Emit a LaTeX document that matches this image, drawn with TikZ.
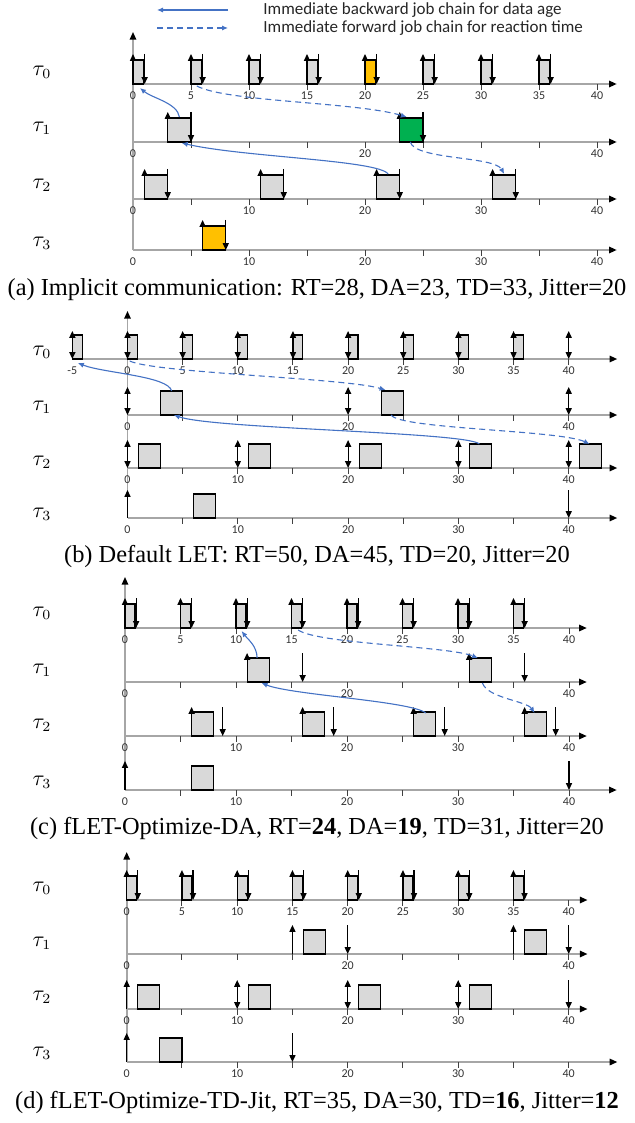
\documentclass[tikz,border=0pt]{standalone}
\usepackage{fontspec}
\setmainfont{Liberation Serif}
\newfontfamily\calfont{Carlito}
\usepackage{tikz}
\usetikzlibrary{arrows.meta}

\definecolor{jobfill}{HTML}{D9D9D9}
\definecolor{jobyel}{HTML}{FFC000}
\definecolor{jobgrn}{HTML}{00B050}
\definecolor{chainblue}{HTML}{4472C4}
\definecolor{axisgray}{HTML}{A6A6A6}

\tikzset{
  job/.style={fill=jobfill, draw=black, line width=0.6pt},
  upar/.style={line width=0.6pt, -{Triangle[length=3.4pt, width=3pt]}},
  twoar/.style={line width=0.6pt, {Triangle[length=3.4pt, width=3pt]}-{Triangle[length=3.4pt, width=3pt]}},
  taxis/.style={axisgray, line width=0.8pt, -{Triangle[length=3.8pt, width=3.2pt, color=black]}},
  tick/.style={black!75, line width=0.5pt},
  tlab/.style={font=\calfont\fontsize{6}{7}\selectfont, text=black!80, inner sep=0pt, anchor=north},
  tname/.style={font=\fontsize{10.5}{12}\selectfont},
  legtext/.style={font=\calfont\fontsize{8.5}{9.5}\selectfont, text=black!85, anchor=west, inner sep=0pt},
  chainb/.style={chainblue, line width=0.55pt, -{Latex[length=3pt, width=2.6pt]}},
  chainf/.style={chainb, dash pattern=on 3pt off 2pt},
  capt/.style={font=\fontsize{12.2}{14}\selectfont}
}

\begin{document}
\begin{tikzpicture}[x=0.5pt, y=0.5pt]
\useasboundingbox (0,0) rectangle (634,-1123);

% ── Legend ───────────────────────────────────────────────────────
\coordinate (lgb1) at (228,-10); \coordinate (lgb2) at (157,-10);
\coordinate (lgf1) at (157,-28); \coordinate (lgf2) at (228,-28);
\draw[chainb] (lgb1) -- (lgb2);
\draw[chainf] (lgf1) -- (lgf2);
\node[legtext] (lgback) at (263,-10) {Immediate backward job chain for data age};
\node[legtext] (lgfwd) at (263,-28) {Immediate forward job chain for reaction time};

% ── (a) Implicit communication ───────────────────────────────────
\begin{scope}[shift={(133,0)}, x=5.8pt]
    \draw[taxis] (0,-250) -- (0,-32);

    % tau_0
    \draw[taxis] (0,-84) -- (41.7,-84);
    \foreach \t in {5,10,...,40} \draw[tick] (\t,-84) -- ++(0,-6);
    \foreach \t in {0,5,...,40} \node[tlab] (a0l\t) at (\t,-91) {\t};
    \foreach \t in {0,5,10,15,25,30,35} \filldraw[job] (\t,-84) rectangle ++(0.9,24);
    \filldraw[job, fill=jobyel] (20,-84) rectangle ++(0.9,24);
    \foreach \t in {0,5,...,35} {
        \draw[upar] (\t,-84) -- ++(0,30);
        \draw[upar] (\t+1,-54) -- ++(0,-30);
    }

    % tau_1
    \draw[taxis] (0,-142) -- (41.7,-142);
    \foreach \t in {5,10,...,40} \draw[tick] (\t,-142) -- ++(0,-6);
    \foreach \t in {0,20,40} \node[tlab] (a1l\t) at (\t,-149) {\t};
    \filldraw[job] (3,-142) rectangle ++(2,24);
    \filldraw[job, fill=jobgrn] (23,-142) rectangle ++(2,24);
    \foreach \t in {3,23} {
        \draw[upar] (\t,-142) -- ++(0,30);
        \draw[upar] (\t+2,-112) -- ++(0,-30);
    }

    % tau_2
    \draw[taxis] (0,-199) -- (41.7,-199);
    \foreach \t in {5,10,...,40} \draw[tick] (\t,-199) -- ++(0,-6);
    \foreach \t in {0,10,...,40} \node[tlab] (a2l\t) at (\t,-206) {\t};
    \foreach \t in {1,11,21,31} {
        \filldraw[job] (\t,-199) rectangle ++(2,24);
        \draw[upar] (\t,-199) -- ++(0,30);
        \draw[upar] (\t+2,-169) -- ++(0,-30);
    }

    % tau_3
    \draw[taxis] (0,-250) -- (41.7,-250);
    \foreach \t in {5,10,...,40} \draw[tick] (\t,-250) -- ++(0,-6);
    \foreach \t in {0,10,...,40} \node[tlab] (a3l\t) at (\t,-257) {\t};
    \filldraw[job, fill=jobyel] (6,-250) rectangle ++(2,24);
    \draw[upar] (6,-250) -- ++(0,30);
    \draw[upar] (8,-220) -- ++(0,-30);

    % chain end points
    \coordinate (a1j0t) at (4,-117);
    \coordinate (a0r0) at (0.6,-88);
    \coordinate (a0r5) at (5.5,-86);
    \coordinate (a1j1t) at (23.6,-117);
    \coordinate (a2j2t) at (22,-174);
    \coordinate (a1j0b) at (4.2,-143);
    \coordinate (a1j1b) at (23.9,-142);
    \coordinate (a2j3t) at (32,-174);
\end{scope}

\draw[chainb] (a1j0t) .. controls +(-2,14) and +(12,-10) .. (a0r0);
\draw[chainf] (a0r5) .. controls +(30,-16) and +(-50,15) .. (a1j1t);
\draw[chainb] (a2j2t) .. controls +(-10,14) and +(60,-14) .. (a1j0b);
\draw[chainf] (a1j1b) .. controls +(5,-18) and +(-10,18) .. (a2j3t);

\node[tname] (a0n) at (42,-72) {$\tau_0$};
\node[tname] (a1n) at (42,-128) {$\tau_1$};
\node[tname] (a2n) at (42,-185) {$\tau_2$};
\node[tname] (a3n) at (42,-243) {$\tau_3$};
\node[capt] (capa) at (317,-290) {(a) Implicit communication: RT=28, DA=23, TD=33, Jitter=20};

% ── (b) Default LET ──────────────────────────────────────────────
\begin{scope}[shift={(127.5,0)}, x=5.515pt]
    \draw[taxis] (0,-518) -- (0,-311);

    % tau_0
    \draw[taxis] (-5,-359) -- (44.4,-359);
    \foreach \t in {5,10,...,40} \draw[tick] (\t,-359) -- ++(0,-6);
    \foreach \t [count=\i] in {-5,0,5,...,40} \node[tlab] (b0l\i) at (\t,-366) {\t};
    \foreach \t in {-5,0,...,35} \filldraw[job] (\t,-359) rectangle ++(0.9,24);
    \foreach \t in {-5,0,...,40} \draw[twoar] (\t,-359) -- ++(0,28);

    % tau_1
    \draw[taxis] (0,-415) -- (44.4,-415);
    \foreach \t in {5,10,...,40} \draw[tick] (\t,-415) -- ++(0,-6);
    \foreach \t in {0,20,40} \node[tlab] (b1l\t) at (\t,-422) {\t};
    \foreach \t in {3,23} \filldraw[job] (\t,-415) rectangle ++(2,24);
    \foreach \t in {0,20,40} \draw[twoar] (\t,-415) -- ++(0,28);

    % tau_2
    \draw[taxis] (0,-468) -- (44.4,-468);
    \foreach \t in {5,10,...,40} \draw[tick] (\t,-468) -- ++(0,-6);
    \foreach \t in {0,10,...,40} \node[tlab] (b2l\t) at (\t,-475) {\t};
    \foreach \t in {1,11,...,41} \filldraw[job] (\t,-468) rectangle ++(2,24);
    \foreach \t in {0,10,...,40} \draw[twoar] (\t,-468) -- ++(0,28);

    % tau_3
    \draw[taxis] (0,-518) -- (44.4,-518);
    \foreach \t in {5,10,...,40} \draw[tick] (\t,-518) -- ++(0,-6);
    \foreach \t in {0,10,...,40} \node[tlab] (b3l\t) at (\t,-525) {\t};
    \filldraw[job] (6,-518) rectangle ++(2,24);
    \draw[upar] (0,-518) -- ++(0,28);
    \draw[upar] (40,-490) -- ++(0,-28);

    % chain end points
    \coordinate (b1j0t) at (4,-391);
    \coordinate (b0rm5) at (-4.5,-363);
    \coordinate (b0r0) at (0.2,-361);
    \coordinate (b1j1t) at (23.4,-390);
    \coordinate (b2j3t) at (31.9,-444);
    \coordinate (b1j0b) at (4.2,-415);
    \coordinate (b1j1b) at (23.9,-415);
    \coordinate (b2j4t) at (41.9,-444);
\end{scope}

\draw[chainb] (b1j0t) .. controls +(-3,15) and +(25,-10) .. (b0rm5);
\draw[chainf] (b0r0) .. controls +(25,-12) and +(-40,12) .. (b1j1t);
\draw[chainb] (b2j3t) .. controls +(-12,12) and +(40,-14) .. (b1j0b);
\draw[chainf] (b1j1b) .. controls +(8,-14) and +(-30,14) .. (b2j4t);

\node[tname] (b0n) at (42,-352) {$\tau_0$};
\node[tname] (b1n) at (42,-407) {$\tau_1$};
\node[tname] (b2n) at (42,-462) {$\tau_2$};
\node[tname] (b3n) at (42,-514) {$\tau_3$};
\node[capt] (capb) at (317,-557) {(b) Default LET: RT=50, DA=45, TD=20, Jitter=20};

% ── (c) fLET-Optimize-DA ─────────────────────────────────────────
\begin{scope}[shift={(125,0)}, x=5.55pt]
    \draw[taxis] (0,-790) -- (0,-577);

    % tau_0
    \draw[taxis] (0,-628) -- (41.6,-628);
    \foreach \t in {5,10,...,40} \draw[tick] (\t,-628) -- ++(0,-6);
    \foreach \t in {0,5,...,40} \node[tlab] (c0l\t) at (\t,-635) {\t};
    \foreach \t in {0,5,...,35} {
        \filldraw[job] (\t,-628) rectangle ++(0.9,24);
        \draw[upar] (\t,-628) -- ++(0,30);
        \draw[upar] (\t+1,-598) -- ++(0,-30);
    }

    % tau_1
    \draw[taxis] (0,-682) -- (41.6,-682);
    \foreach \t in {5,10,...,40} \draw[tick] (\t,-682) -- ++(0,-6);
    \foreach \t in {0,20,40} \node[tlab] (c1l\t) at (\t,-689) {\t};
    \foreach \t in {11,31} {
        \filldraw[job] (\t,-682) rectangle ++(2,24);
        \draw[upar] (\t,-682) -- ++(0,29);
        \draw[upar] (\t+5,-653) -- ++(0,-29);
    }

    % tau_2
    \draw[taxis] (0,-736) -- (41.6,-736);
    \foreach \t in {5,10,...,40} \draw[tick] (\t,-736) -- ++(0,-6);
    \foreach \t in {0,10,...,40} \node[tlab] (c2l\t) at (\t,-743) {\t};
    \foreach \t in {6,16,26,36} {
        \filldraw[job] (\t,-736) rectangle ++(2,24);
        \draw[upar] (\t,-736) -- ++(0,29);
        \draw[upar] (\t+2.8,-707) -- ++(0,-29);
    }

    % tau_3
    \draw[taxis] (0,-790) -- (44.3,-790);
    \foreach \t in {5,10,...,40} \draw[tick] (\t,-790) -- ++(0,-6);
    \foreach \t in {0,10,...,40} \node[tlab] (c3l\t) at (\t,-797) {\t};
    \filldraw[job] (6,-790) rectangle ++(2,24);
    \draw[upar] (0,-790) -- ++(0,29);
    \draw[upar] (40,-761) -- ++(0,-29);

    % chain end points
    \coordinate (c1j0t) at (11.9,-658);
    \coordinate (c0r10) at (10.5,-631);
    \coordinate (c0r15) at (15.6,-630);
    \coordinate (c1j1t) at (31.8,-658);
    \coordinate (c2j2t) at (27.1,-713);
    \coordinate (c1j0b) at (12.3,-683);
    \coordinate (c1j1b) at (32.2,-683);
    \coordinate (c2j3t) at (36.9,-713);
\end{scope}

\draw[chainb] (c1j0t) .. controls +(0,12) and +(6,-8) .. (c0r10);
\draw[chainf] (c0r15) .. controls +(20,-14) and +(-30,12) .. (c1j1t);
\draw[chainb] (c2j2t) .. controls +(-15,12) and +(30,-12) .. (c1j0b);
\draw[chainf] (c1j1b) .. controls +(5,-15) and +(-8,12) .. (c2j3t);

\node[tname] (c0n) at (42,-613) {$\tau_0$};
\node[tname] (c1n) at (42,-670) {$\tau_1$};
\node[tname] (c2n) at (42,-725) {$\tau_2$};
\node[tname] (c3n) at (42,-782) {$\tau_3$};
\node[capt] (capc) at (317,-828) {(c) fLET-Optimize-DA, RT=\textbf{24}, DA=\textbf{19}, TD=31, Jitter=20};

% ── (d) fLET-Optimize-TD-Jit ─────────────────────────────────────
\begin{scope}[shift={(126.7,0)}, x=5.525pt]
    \draw[taxis] (0,-1062) -- (0,-852);

    % tau_0
    \draw[taxis] (0,-900) -- (41.7,-900);
    \foreach \t in {5,10,...,40} \draw[tick] (\t,-900) -- ++(0,-6);
    \foreach \t in {0,5,...,40} \node[tlab] (d0l\t) at (\t,-907) {\t};
    \foreach \t in {0,5,...,35} {
        \filldraw[job] (\t,-900) rectangle ++(0.9,24);
        \draw[upar] (\t,-900) -- ++(0,30);
        \draw[upar] (\t+1,-870) -- ++(0,-30);
    }

    % tau_1
    \draw[taxis] (0,-954) -- (41.7,-954);
    \foreach \t in {5,10,...,40} \draw[tick] (\t,-954) -- ++(0,-6);
    \foreach \t in {0,20,40} \node[tlab] (d1l\t) at (\t,-961) {\t};
    \foreach \t in {15,35} {
        \filldraw[job] (\t+1,-954) rectangle ++(2,24);
        \draw[upar] (\t,-954) -- ++(0,29);
        \draw[upar] (\t+5,-925) -- ++(0,-29);
    }

    % tau_2
    \draw[taxis] (0,-1009) -- (41.7,-1009);
    \foreach \t in {5,10,...,40} \draw[tick] (\t,-1009) -- ++(0,-6);
    \foreach \t in {0,10,...,40} \node[tlab] (d2l\t) at (\t,-1016) {\t};
    \foreach \t in {1,11,21,31} \filldraw[job] (\t,-1009) rectangle ++(2,24);
    \draw[upar] (0,-1009) -- ++(0,29);
    \foreach \t in {10,20,30} \draw[twoar] (\t,-1009) -- ++(0,29);
    \draw[upar] (40,-980) -- ++(0,-29);

    % tau_3
    \draw[taxis] (0,-1062) -- (44.4,-1062);
    \foreach \t in {5,10,...,40} \draw[tick] (\t,-1062) -- ++(0,-6);
    \foreach \t in {0,10,...,40} \node[tlab] (d3l\t) at (\t,-1069) {\t};
    \filldraw[job] (3,-1062) rectangle ++(2,24);
    \draw[upar] (0,-1062) -- ++(0,29);
    \draw[upar] (15,-1033) -- ++(0,-29);
\end{scope}

\node[tname] (d0n) at (42,-888) {$\tau_0$};
\node[tname] (d1n) at (42,-943) {$\tau_1$};
\node[tname] (d2n) at (42,-997) {$\tau_2$};
\node[tname] (d3n) at (42,-1053) {$\tau_3$};
\node[capt] (capd) at (317,-1102) {(d) fLET-Optimize-TD-Jit, RT=35, DA=30, TD=\textbf{16}, Jitter=\textbf{12}};

\end{tikzpicture}
\end{document}
